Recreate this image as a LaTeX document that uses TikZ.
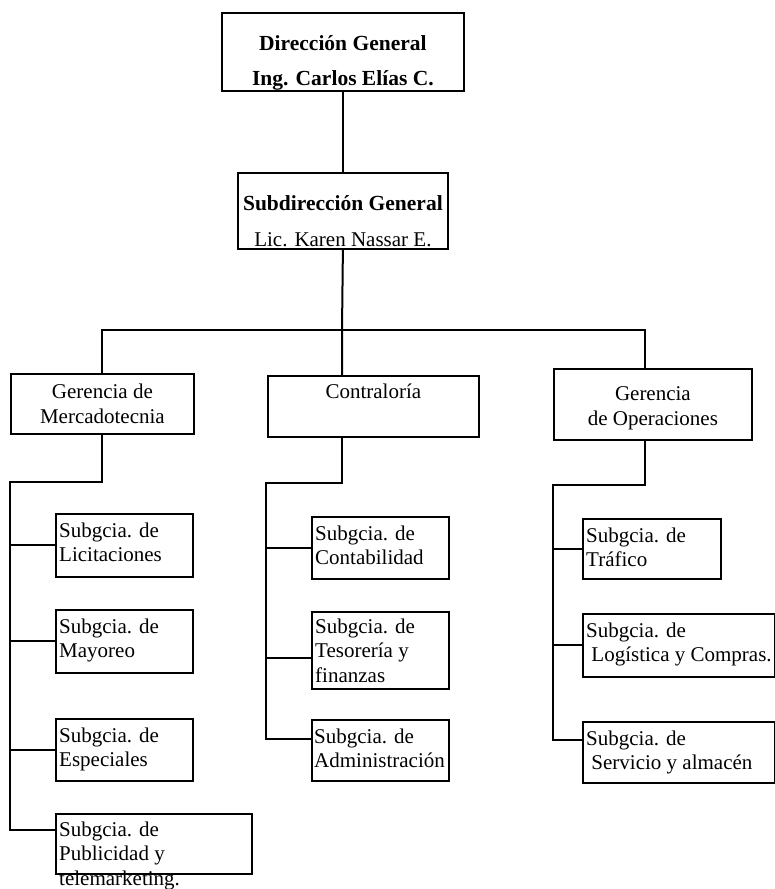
\documentclass[tikz,border=0pt]{standalone}
\usepackage{fontspec}
\setmainfont{Liberation Serif}
\newcommand{\regfont}{\fontsize{21}{24.5}\selectfont}
\newcommand{\boldfont}{\fontsize{21.5}{26}\selectfont\bfseries}
\usetikzlibrary{calc}

\tikzset{
  unit/.style={draw, line width=1.8pt, inner sep=0pt, anchor=north west},
  wh/.style 2 args={minimum width=#1pt, minimum height=#2pt},
  lbl/.style={inner sep=0pt, font=\regfont, align=left, anchor=base west},
  mid/.style={inner sep=0pt, font=\regfont, align=center, anchor=base},
  ttl/.style={inner sep=0pt, font=\boldfont, anchor=base},
  link/.style={line width=2pt},
}

\begin{document}
\begin{tikzpicture}[x=1pt,y=-1pt]
  \useasboundingbox (0,0) rectangle (775,889);

  % direccion
  \node[unit,wh={242}{78}] (dg) at (221,12) {};
  \node[ttl] at ([yshift=-38pt]dg.north) {Dirección General};
  \node[ttl] at ([yshift=6pt]dg.south) {Ing. Carlos Elías C.};
  \node[unit,wh={210}{76}] (sg) at (237,172) {};
  \node[ttl] at ([yshift=-38pt]sg.north) {Subdirección General};
  \node[mid] at ([yshift=3pt]sg.south) {Lic. Karen Nassar E.};

  % gerencias (base = ultima linea)
  \node[unit,wh={183}{60}] (gm) at (10,373) {};
  \node[mid] at ([yshift=-50pt]gm.north) {Gerencia de\\Mercadotecnia};
  \node[unit,wh={211}{61}] (ct) at (267,375) {};
  \node[mid] at ([yshift=-23pt]ct.north) {Contraloría};
  \node[unit,wh={198}{71}] (op) at (553,368) {};
  \node[mid] at ([yshift=-57pt]op.north) {Gerencia\\de Operaciones};

  % subgerencias
  \node[unit,wh={137}{63}] (li) at (55,513) {};
  \node[unit,wh={137}{63}] (ma) at (55,609) {};
  \node[unit,wh={137}{62}] (es) at (55,718) {};
  \node[unit,wh={196}{60}] (pu) at (55,813) {};
  \node[unit,wh={137}{62}] (co) at (311,516) {};
  \node[unit,wh={137}{77}] (te) at (311,611) {};
  \node[unit,wh={137}{61}] (ad) at (311,719) {};
  \node[unit,wh={138}{60}] (tr) at (582,518) {};
  \node[unit,wh={192}{63}] (lo) at (582,613) {};
  \node[unit,wh={192}{61}] (se) at (582,721) {};

  \node[lbl] at ([xshift=4pt,yshift=-48.5pt]li.north west) {Subgcia. de\\Licitaciones};
  \node[lbl] at ([xshift=4pt,yshift=-48.5pt]ma.north west) {Subgcia. de\\Mayoreo};
  \node[lbl] at ([xshift=4pt,yshift=-48.5pt]es.north west) {Subgcia. de\\Especiales};
  \node[lbl] at ([xshift=4pt,yshift=-72pt]pu.north west) {Subgcia. de\\Publicidad y\\telemarketing.};
  \node[lbl] at ([xshift=4pt,yshift=-48.5pt]co.north west) {Subgcia. de\\Contabilidad};
  \node[lbl] at ([xshift=4pt,yshift=-71pt]te.north west) {Subgcia. de\\Tesorería y\\finanzas};
  \node[lbl] at ([xshift=3pt,yshift=-48.5pt]ad.north west) {Subgcia. de\\Administración};
  \node[lbl] at ([xshift=4pt,yshift=-48.5pt]tr.north west) {Subgcia. de\\Tráfico};
  \node[lbl] at ([xshift=4pt,yshift=-48.5pt]lo.north west) {Subgcia. de\\~Logística y Compras.};
  \node[lbl] at ([xshift=4pt,yshift=-48.5pt]se.north west) {Subgcia. de\\~Servicio y almacén};

  \coordinate (bus) at (342,330);
  \coordinate (mk) at (10,482);
  \coordinate (cc) at (266,483);
  \coordinate (oc) at (553,485);

  % lineas
  \draw[link] (dg) -- (sg);
  \draw[link] (sg.south) -- (bus) -- (bus |- ct.north);
  \draw[link] (gm.north) |- (bus) -| ([xshift=-8pt]op.north);

  \draw[link] (gm.south) |- (mk) |- ([yshift=14pt]pu.west);
  \foreach \b in {li,ma,es}
    \draw[link] (\b.west) -| (mk);

  \draw[link] (bus |- ct.south) |- (cc) |- ([yshift=11pt]ad.west);
  \draw[link] (co.west) -| (cc);
  \draw[link] ([yshift=-8pt]te.west) -| (cc);

  \draw[link] ([xshift=-8pt]op.south) |- (oc) |- ([yshift=12pt]se.west);
  \foreach \b in {tr,lo}
    \draw[link] (\b.west) -| (oc);
\end{tikzpicture}
\end{document}
